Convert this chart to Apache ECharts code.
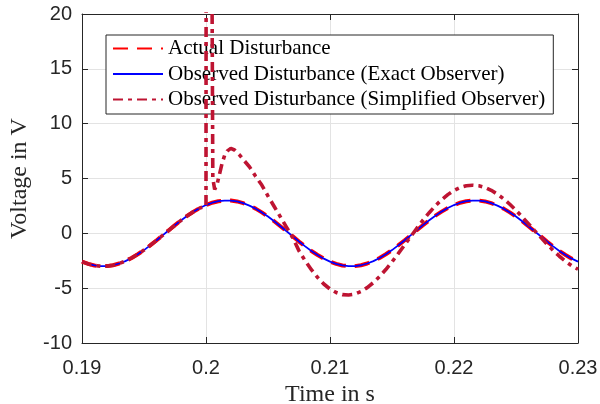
<!DOCTYPE html>
<html>
<head>
<meta charset="utf-8">
<script src="https://cdn.jsdelivr.net/npm/echarts@6/dist/echarts.min.js"></script>
<style>html,body{margin:0;padding:0;background:#fff}#c{width:600px;height:404px}</style>
</head>
<body>
<div id="c"></div>
<script>
var time = [0.19,0.1905,0.191,0.1915,0.192,0.1925,0.193,0.1935,0.194,0.1945,0.195,0.1955,0.196,0.1965,0.197,0.1975,0.198,0.1985,0.199,0.1995,
0.2,0.2005,0.201,0.2015,0.202,0.2025,0.203,0.2035,0.204,0.2045,0.205,0.2055,0.206,0.2065,0.207,0.2075,0.208,0.2085,0.209,0.2095,
0.21,0.2105,0.211,0.2115,0.212,0.2125,0.213,0.2135,0.214,0.2145,0.215,0.2155,0.216,0.2165,0.217,0.2175,0.218,0.2185,0.219,0.2195,
0.22,0.2205,0.221,0.2215,0.222,0.2225,0.223,0.2235,0.224,0.2245,0.225,0.2255,0.226,0.2265,0.227,0.2275,0.228,0.2285,0.229,0.2295,0.23];

var actualDisturbance = [-2.58,-2.79,-2.93,-2.99,-2.99,-2.91,-2.75,-2.53,-2.25,-1.91,-1.53,-1.10,-0.65,-0.19,0.28,0.75,1.19,1.61,1.98,2.31,
2.58,2.79,2.93,2.99,2.99,2.91,2.75,2.53,2.25,1.91,1.53,1.10,0.65,0.19,-0.28,-0.75,-1.19,-1.61,-1.98,-2.31,
-2.58,-2.79,-2.93,-2.99,-2.99,-2.91,-2.75,-2.53,-2.25,-1.91,-1.53,-1.10,-0.65,-0.19,0.28,0.75,1.19,1.61,1.98,2.31,
2.58,2.79,2.93,2.99,2.99,2.91,2.75,2.53,2.25,1.91,1.53,1.10,0.65,0.19,-0.28,-0.75,-1.19,-1.61,-1.98,-2.31,-2.58];

var exactObserver = [-2.58,-2.79,-2.93,-2.99,-2.99,-2.91,-2.75,-2.53,-2.25,-1.91,-1.53,-1.10,-0.65,-0.19,0.28,0.75,1.19,1.61,1.98,2.31,
2.58,2.79,2.93,2.99,2.99,2.91,2.75,2.53,2.25,1.91,1.53,1.10,0.65,0.19,-0.28,-0.75,-1.19,-1.61,-1.98,-2.31,
-2.58,-2.79,-2.93,-2.99,-2.99,-2.91,-2.75,-2.53,-2.25,-1.91,-1.53,-1.10,-0.65,-0.19,0.28,0.75,1.19,1.61,1.98,2.31,
2.58,2.79,2.93,2.99,2.99,2.91,2.75,2.53,2.25,1.91,1.53,1.10,0.65,0.19,-0.28,-0.75,-1.19,-1.61,-1.98,-2.31,-2.58];

var simTime = [0.19,0.1905,0.191,0.1915,0.192,0.1925,0.193,0.1935,0.194,0.1945,0.195,0.1955,0.196,0.1965,0.197,0.1975,0.198,0.1985,0.199,0.1995,
0.2,0.20002,0.2004,0.20055,0.2007,0.2009,0.2011,0.2013,0.2015,0.2017,0.202,0.2023,0.2027,0.2031,0.2035,0.204,0.2045,0.205,0.2055,0.206,0.2065,0.207,
0.2075,0.208,0.2085,0.209,0.2095,0.21,0.2105,0.211,0.2115,0.212,0.2125,0.213,0.2135,0.214,0.2145,0.215,0.2155,0.216,0.2165,0.217,0.2175,0.218,0.2185,0.219,0.2195,
0.22,0.2205,0.221,0.2215,0.222,0.2225,0.223,0.2235,0.224,0.2245,0.225,0.2255,0.226,0.2265,0.227,0.2275,0.228,0.2285,0.229,0.2295,0.23];

var simplifiedObserver = [-2.58,-2.79,-2.93,-2.99,-2.99,-2.91,-2.75,-2.53,-2.25,-1.91,-1.53,-1.10,-0.65,-0.19,0.28,0.75,1.19,1.61,1.98,2.31,
2.5,45,45,5.0,4.0,4.5,5.45,6.4,7.1,7.5,7.75,7.6,7.15,6.6,6.07,5.2,4.4,3.4,2.45,1.5,0.55,-0.4,
-1.60,-2.50,-3.32,-4.02,-4.62,-5.08,-5.40,-5.59,-5.62,-5.54,-5.31,-4.95,-4.49,-3.94,-3.30,-2.61,-1.85,-1.08,-0.31,0.45,1.20,1.88,2.52,3.06,3.53,
3.91,4.18,4.34,4.39,4.34,4.19,3.92,3.57,3.15,2.65,2.10,1.50,0.88,0.25,-0.37,-0.99,-1.56,-2.09,-2.56,-2.96,-3.28];

var xTickLabels = ['0.19','0.2','0.21','0.22','0.23'];
var yTickLabels = ['-10','-5','0','5','10','15','20'];
var seriesNames = ['Actual Disturbance','Observed Disturbance (Exact Observer)','Observed Disturbance (Simplified Observer)'];

function pairs(t, v){ var out=[]; for(var i=0;i<t.length;i++) out.push([t[i], v[i]]); return out; }

var axisColor = '#262626';
var chart = echarts.init(document.getElementById('c'), null, {renderer:'canvas'});
chart.setOption({
  animation:false,
  backgroundColor:'#fff',
  grid:{left:82, right:22, top:14, bottom:61, containLabel:false, outerBoundsMode:'none'},
  legend:{
    show:true, orient:'vertical', left:106, top:35,
    data:seriesNames,
    backgroundColor:'#fff', borderColor:axisColor, borderWidth:1, borderRadius:0,
    padding:[3,8,4,6], itemWidth:50, itemHeight:14, itemGap:4.5,
    itemStyle:{opacity:0},
    textStyle:{fontFamily:'Liberation Serif', fontSize:21, color:'#000'}
  },
  xAxis:[{
    type:'value', min:0.19, max:0.23, interval:0.01, position:'bottom',
    axisLine:{show:true, onZero:false, lineStyle:{color:axisColor, width:1}},
    axisTick:{show:true, inside:true, length:6, lineStyle:{color:axisColor}},
    axisLabel:{color:axisColor, fontFamily:'Liberation Sans', fontSize:20, margin:15,
      formatter:function(v){ return xTickLabels[Math.round((v-0.19)/0.01)]; }},
    splitLine:{show:true, lineStyle:{color:'#e3e3e3', width:1}},
    name:'Time in s', nameLocation:'middle', nameGap:37,
    nameTextStyle:{fontFamily:'Liberation Serif', fontSize:24, color:axisColor}
  },{
    type:'value', min:0.19, max:0.23, interval:0.01, position:'top',
    axisLine:{show:true, onZero:false, lineStyle:{color:axisColor, width:1}},
    axisTick:{show:true, inside:true, length:6, lineStyle:{color:axisColor}},
    axisLabel:{show:false}, splitLine:{show:false}
  }],
  yAxis:[{
    type:'value', min:-10, max:20, interval:5, position:'left',
    axisLine:{show:true, onZero:false, lineStyle:{color:axisColor, width:1}},
    axisTick:{show:true, inside:true, length:6, lineStyle:{color:axisColor}},
    axisLabel:{color:axisColor, fontFamily:'Liberation Sans', fontSize:20, margin:10,
      formatter:function(v){ return yTickLabels[Math.round((v+10)/5)]; }},
    splitLine:{show:true, lineStyle:{color:'#e3e3e3', width:1}},
    name:'Voltage in V', nameLocation:'middle', nameGap:43,
    nameTextStyle:{fontFamily:'Liberation Serif', fontSize:24, color:axisColor}
  },{
    type:'value', min:-10, max:20, interval:5, position:'right',
    axisLine:{show:true, onZero:false, lineStyle:{color:axisColor, width:1}},
    axisTick:{show:true, inside:true, length:6, lineStyle:{color:axisColor}},
    axisLabel:{show:false}, splitLine:{show:false}
  }],
  series:[{
    name:seriesNames[0], type:'line', xAxisIndex:0, yAxisIndex:0,
    data:pairs(time, actualDisturbance), showSymbol:false, symbol:'none',
    lineStyle:{color:'#ff0000', width:4, type:[15,9]}, itemStyle:{color:'#ff0000'}, z:2
  },{
    name:seriesNames[1], type:'line', xAxisIndex:0, yAxisIndex:0,
    data:pairs(time, exactObserver), showSymbol:false, symbol:'none',
    lineStyle:{color:'#0000ff', width:1.8, type:'solid'}, itemStyle:{color:'#0000ff'}, z:3
  },{
    name:seriesNames[2], type:'line', xAxisIndex:0, yAxisIndex:0,
    data:pairs(simTime, simplifiedObserver), showSymbol:false, symbol:'none', clip:true,
    lineStyle:{color:'#be1432', width:3.6, type:[10,5,4,5]}, itemStyle:{color:'#be1432'}, z:4
  }]
});
</script>
</body>
</html>
